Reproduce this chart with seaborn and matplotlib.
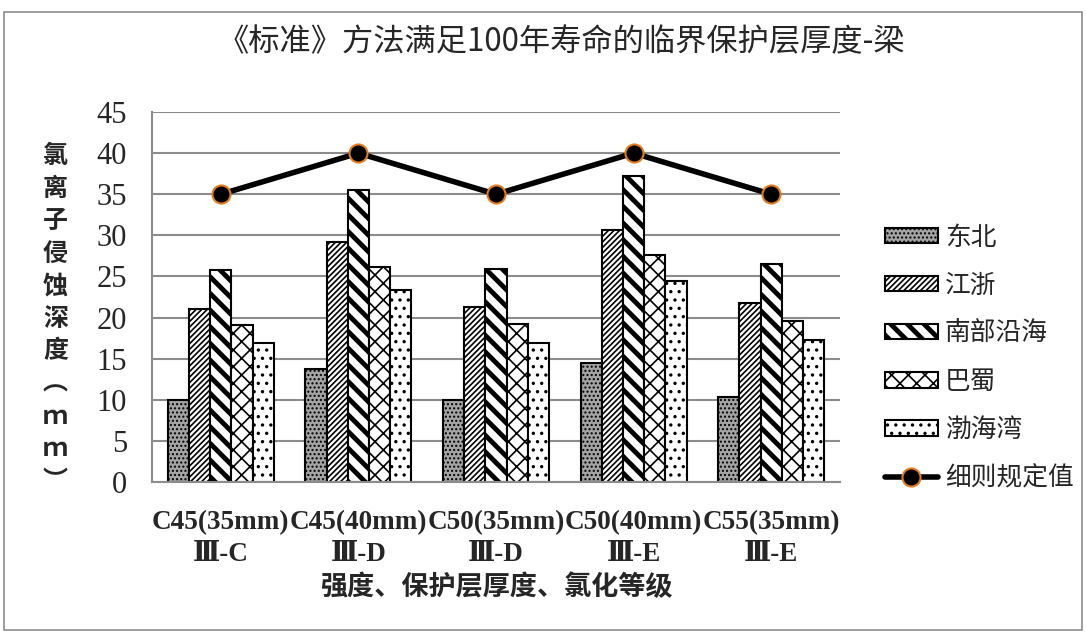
import pandas as pd
import matplotlib
matplotlib.use('Agg')
import matplotlib.pyplot as plt
import matplotlib.patches as mpatches
import matplotlib.lines as mlines
import seaborn as sns

# --------------------------------------------------
# data
categories = ['C45(35mm)\nⅢ-C', 'C45(40mm)\nⅢ-D', 'C50(35mm)\nⅢ-D',
              'C50(40mm)\nⅢ-E', 'C55(35mm)\nⅢ-E']
regions = ['东北', '江浙', '南部沿海', '巴蜀', '渤海湾']
dongbei = [10.0, 13.8, 10.0, 14.5, 10.3]
jiangzhe = [21.1, 29.2, 21.3, 30.7, 21.8]
nanbu = [25.8, 35.5, 25.9, 37.2, 26.5]
bashu = [19.1, 26.2, 19.2, 27.6, 19.6]
bohai = [16.9, 23.3, 16.9, 24.5, 17.3]
limit = [35, 40, 35, 40, 35]
limit_name = '细则规定值'
yticks = [0, 5, 10, 15, 20, 25, 30, 35, 40, 45]

series = [dongbei, jiangzhe, nanbu, bashu, bohai]
rows = []
for reg, vals in zip(regions, series):
    for cat, v in zip(categories, vals):
        rows.append({'cat': cat, 'region': reg, 'depth': v})
df = pd.DataFrame(rows)

# bar styles (face, hatch, hatch line width)
styles = [('#a4a4a4', '....', 1.0), ('white', '//////', 1.2),
          ('white', '\\\\', 3.5), ('white', 'xx', 1.2), ('white', '..', 1.2)]

sns.set_style('white')
plt.rcParams['font.family'] = ['Noto Sans CJK SC', 'DejaVu Sans']
plt.rcParams['hatch.linewidth'] = 1.2
plt.rcParams['hatch.color'] = 'black'

fig = plt.figure(figsize=(10.86, 6.34), dpi=100)
ax = fig.add_axes([0.140, 0.2397, 0.6335, 0.5836])

sns.barplot(data=df, x='cat', y='depth', hue='region', hue_order=regions,
            width=0.77, ax=ax, legend=False, errorbar=None, saturation=1)

for cont, (fc, hatch, hlw) in zip(ax.containers, styles):
    for bar in cont:
        bar.set_facecolor(fc)
        bar.set_edgecolor('black')
        bar.set_linewidth(1.5)
        bar.set_hatch(hatch)
        if hasattr(bar, 'set_hatch_linewidth'):
            bar.set_hatch_linewidth(hlw)

sns.pointplot(x=categories, y=limit, color='black', markers='o',
              markersize=13, linewidth=4, ax=ax)
for ln in ax.lines:
    ln.set_markeredgecolor('#e07b22')
    ln.set_markeredgewidth(1.5)
    ln.set_markerfacecolor('black')
    ln.set_zorder(5)

# axes cosmetics
ax.set_ylim(0, 45)
ax.set_xlim(-0.5, 4.5)
ax.set_yticks(yticks)
ax.grid(axis='y', color='#8c8c8c', linewidth=1.5)
ax.set_axisbelow(True)
for s in ['top', 'right']:
    ax.spines[s].set_visible(False)
for s in ['left', 'bottom']:
    ax.spines[s].set_color('#8c8c8c')
    ax.spines[s].set_linewidth(1.5)

ax.tick_params(axis='y', length=8, width=1.5, color='#8c8c8c', pad=10)
ax.tick_params(axis='x', which='major', length=0, pad=20)
ax.set_xticks([-0.5, 0.5, 1.5, 2.5, 3.5, 4.5], minor=True)
ax.tick_params(axis='x', which='minor', length=8, width=1.5, color='#8c8c8c')

for lab in ax.get_yticklabels():
    lab.set_fontfamily(['Liberation Serif', 'DejaVu Serif'])
    lab.set_fontsize(22)
for lab in ax.get_xticklabels():
    lab.set_fontfamily(['Liberation Serif', 'DejaVu Serif'])
    lab.set_fontsize(19.5)
    lab.set_fontweight('bold')
    lab.set_linespacing(1.4)

ax.set_xlabel('强度、保护层厚度、氯化等级', fontsize=19.5, fontweight='bold',
              labelpad=4)
ax.set_ylabel('')
fig.text(0.051, 0.497, '\n'.join('氯离子侵蚀深度︵ｍｍ︶'), ha='center',
         va='center', fontsize=18, fontweight='bold', linespacing=1.45)

fig.suptitle('《标准》方法满足100年寿命的临界保护层厚度-梁', x=0.517,
             y=0.958, fontsize=22.5)

# legend
handles = []
for reg, (fc, hatch, hlw) in zip(regions, styles):
    p = mpatches.Patch(facecolor=fc, edgecolor='black', hatch=hatch,
                       linewidth=1.5, label=reg)
    if hasattr(p, 'set_hatch_linewidth'):
        p.set_hatch_linewidth(hlw)
    handles.append(p)
handles.append(mlines.Line2D([], [], color='black', linewidth=4, marker='o',
                             markersize=13, markerfacecolor='black',
                             markeredgecolor='#e07b22', markeredgewidth=1.5,
                             label=limit_name))
leg = fig.legend(handles=handles, loc='upper left',
                 bbox_to_anchor=(0.805, 0.662), frameon=False, fontsize=18.5,
                 handlelength=2.1, handleheight=0.55, handletextpad=0.25,
                 labelspacing=0.86, borderaxespad=0)
for lp, (fc, hatch, hlw) in zip(leg.get_patches(), styles):
    if hasattr(lp, 'set_hatch_linewidth'):
        lp.set_hatch_linewidth(hlw)

# outer frame
fig.patches.append(mpatches.Rectangle((0.004, 0.006), 0.992, 0.975,
                                      transform=fig.transFigure, fill=False,
                                      edgecolor='#8c8c8c', linewidth=1.2))

fig.savefig('out.png', dpi=100)
